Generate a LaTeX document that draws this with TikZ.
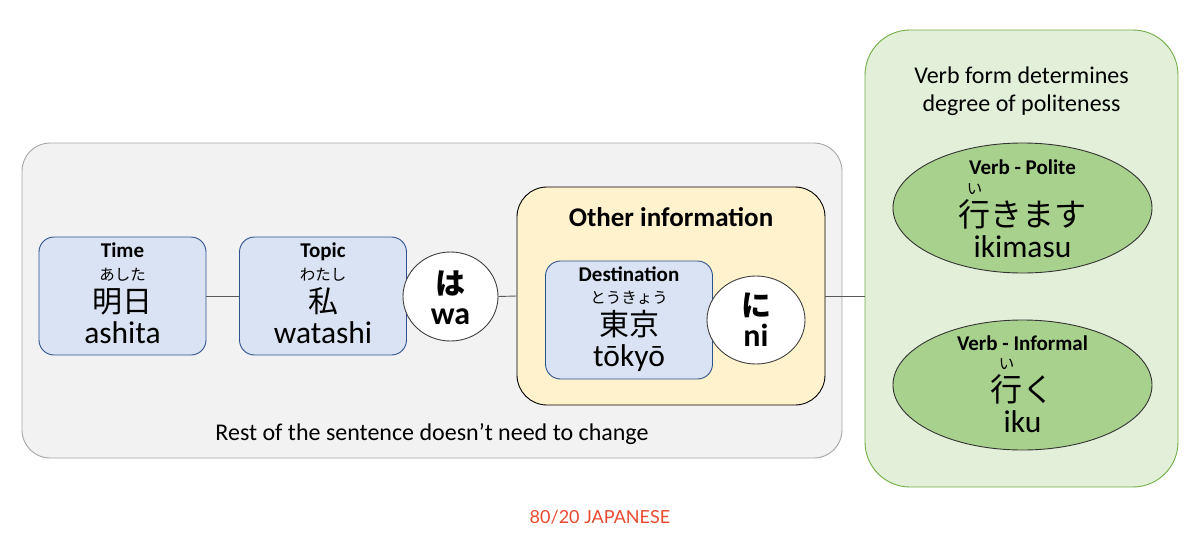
\documentclass[tikz,border=0pt]{standalone}
\usepackage{fontspec}
\setmainfont{Carlito}
\newfontfamily\jp{Noto Sans CJK JP}
\newfontfamily\brand{Lato}
\usetikzlibrary{shapes.geometric,positioning}

\definecolor{boxgray}{HTML}{F2F2F2}
\definecolor{linegray}{HTML}{A6A6A6}
\definecolor{wordblue}{HTML}{DAE3F3}
\definecolor{wordedge}{HTML}{2F528F}
\definecolor{infoyellow}{HTML}{FFF2CC}
\definecolor{verbgreen}{HTML}{E2F0D9}
\definecolor{verbedge}{HTML}{70AD47}
\definecolor{verbfill}{HTML}{A9D18E}
\definecolor{brandred}{HTML}{E84A2F}
\definecolor{connector}{HTML}{595959}

\newcommand{\lab}{\bfseries\fontsize{21}{0}\selectfont}
\newcommand{\fu}{\jp\fontsize{15.5}{0}\selectfont}
\newcommand{\kj}{\jp\fontsize{30}{0}\selectfont}
\newcommand{\kjv}{\jp\fontsize{32}{0}\selectfont}
\newcommand{\ruby}[2]{\setbox0\hbox{#1}\rlap{\hbox to \wd0{\hss\raisebox{32.5pt}[0pt][0pt]{\fu #2}\hss}}\box0}

\begin{document}
\begin{tikzpicture}[x=1pt,y=-1pt,
  panel/.style={draw=linegray, fill=boxgray, rounded corners=28pt, line width=0.9pt},
  word/.style={draw=wordedge, fill=wordblue, rounded corners=15pt, minimum width=167pt, minimum height=118pt, line width=0.9pt},
  particle/.style={ellipse, draw=black!75, fill=white, minimum width=95pt, minimum height=89pt, line width=0.9pt},
  info/.style={draw=black, fill=infoyellow, rounded corners=30pt, line width=0.9pt},
  verbpanel/.style={draw=verbedge, fill=verbgreen, rounded corners=45pt, line width=0.9pt},
  verb/.style={ellipse, draw=black!80, fill=verbfill, minimum width=259pt, minimum height=130pt, line width=0.9pt},
  txt/.style={align=center, inner sep=0pt, font={\fontsize{31.5}{0}\selectfont\lineskiplimit=-1000pt}},
  link/.style={draw=connector, line width=0.9pt}]
\useasboundingbox (0,0) rectangle (1200,546);

% sentence
\node[panel, minimum width=820pt, minimum height=315pt] (rest) at (432,300.5) {};
\node[word] (time) at (122.5,296) {};
\node[word] (topic) at (323,296) {};
\node[particle] (wa) at (450.5,296.5) {};
\node[info, minimum width=308pt, minimum height=218pt] (other) at (671,296) {};
\node[word] (dest) at (629,320) {};
\node[particle, minimum width=98pt, minimum height=88pt] (ni) at (756,320) {};

% verb side
\node[verbpanel, minimum width=313pt, minimum height=457pt] (form) at (1021.5,258.5) {};
\node[verb] (polite) at (1022.5,208) {};
\node[verb] (informal) at (1022.5,385) {};

\draw[link] (time.east) -- (topic.west);
\draw[link] (wa.east) -- (other.west);
\draw[link] (other.east) -- (other.east -| form.west);

% texts (base = last line)
\node[txt, anchor=base] (timeText) at ([yshift=-107pt]time.north) {{\lab Time}\\[55pt]{\kj\ruby{明日}{あした}}\\[31pt]ashita};
\node[txt, anchor=base] (topicText) at ([yshift=-107pt]topic.north) {{\lab Topic}\\[55pt]{\kj\ruby{私}{わたし}}\\[31pt]watashi};
\node[txt, anchor=base, font={\bfseries\fontsize{32}{0}\selectfont\lineskiplimit=-1000pt}] (waText) at ([yshift=-73pt]wa.north) {{\jp\bfseries\fontsize{30}{0}\selectfont は}\\[30pt]wa};
\node[txt, anchor=base, font={\bfseries\fontsize{27}{0}\selectfont}] (otherText) at ([yshift=-40pt]other.north) {Other information};
\node[txt, anchor=base] (destText) at ([yshift=-106pt]dest.north) {{\lab Destination}\\[54pt]{\kj\ruby{東京}{とうきょう}}\\[31pt]tōkyō};
\node[txt, anchor=base, font={\bfseries\fontsize{32}{0}\selectfont\lineskiplimit=-1000pt}] (niText) at ([yshift=-71pt]ni.north) {{\jp\bfseries\fontsize{30}{0}\selectfont に}\\[30pt]ni};
\node[txt, anchor=base, font={\fontsize{24}{0}\selectfont\lineskiplimit=-1000pt}] (formText) at ([yshift=-82pt]form.north) {Verb form determines\\[28pt]degree of politeness};
\node[txt, anchor=base] (politeText) at ([yshift=-115pt]polite.north) {{\lab Verb - Polite}\\[52pt]{\kjv\ruby{行}{い}きます}\\[31pt]ikimasu};
\node[txt, anchor=base] (informalText) at ([yshift=-113pt]informal.north) {{\lab Verb - Informal}\\[51pt]{\kjv\ruby{行}{い}く}\\[31pt]iku};
\node[txt, anchor=base, font={\fontsize{24}{0}\selectfont}] (restText) at ([yshift=18pt]rest.south) {Rest of the sentence doesn’t need to change};
\node[anchor=base, inner sep=0pt, text=brandred, font={\brand\fontsize{18}{0}\selectfont}] (brandText) at (600,523) {80/20 JAPANESE};
\end{tikzpicture}
\end{document}
